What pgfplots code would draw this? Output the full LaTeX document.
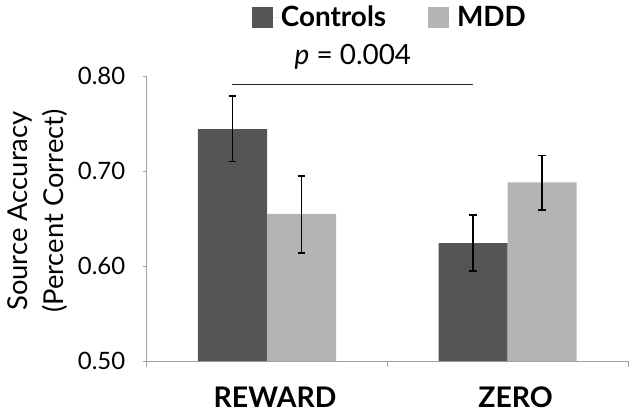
\documentclass[border=0pt]{standalone}
\usepackage{pgfplots}
\pgfplotsset{compat=1.18}
\usepackage{fontspec}
\setmainfont{Lato}
\definecolor{ctrl}{HTML}{555555}
\definecolor{mdd}{HTML}{B4B4B4}
\definecolor{axgray}{HTML}{A0A0A0}
\begin{document}
\begin{tikzpicture}
\path[use as bounding box] (-146.7bp,-52bp) rectangle (486.3bp,361bp);
\begin{axis}[
  at={(0,0)}, anchor=south west,
  scale only axis, width=481.3bp, height=285bp,
  xmin=-0.5, xmax=1.5, ymin=0.5, ymax=0.8,
  ybar=0pt, bar width=0.287,
  axis x line*=bottom, axis y line*=left,
  axis line style={axgray, line width=1bp, -},
  xtick={0,1}, xticklabels={REWARD,ZERO},
  minor xtick={-0.5,0.5,1.5},
  major x tick style={draw=none},
  minor x tick style={axgray, line width=1bp},
  minor tick length=6bp,
  ytick={0.5,0.6,0.7,0.8},
  y tick style={axgray, line width=1bp},
  major tick length=4bp,
  tick align=outside,
  yticklabel style={/pgf/number format/.cd, fixed, fixed zerofill, precision=2, /tikz/.cd, font=\fontsize{24}{28}\selectfont, xshift=-14bp},
  /pgf/number format/assume math mode=true,
  xticklabel style={font=\fontsize{28.5}{32}\selectfont\bfseries, yshift=-18bp, xshift=8bp},
  ylabel={Source Accuracy\\(Percent Correct)},
  ylabel style={at={(axis description cs:-0.226,0.526)}, anchor=center, align=center, font=\fontsize{27.5}{36}\selectfont},
  clip=false,
  legend columns=2,
  legend style={at={(axis description cs:0.218,1.207)}, anchor=west, draw=none, fill=none, inner sep=0pt,
    font=\fontsize{28}{32}\selectfont\bfseries,
    /tikz/every even column/.append style={column sep=40bp}},
  legend image code/.code={\fill[#1] (0bp,-10.5bp) rectangle (21bp,10.5bp); \path (21bp,0bp) -- (27bp,0bp);},
  error bars/y dir=both, error bars/y explicit,
  error bars/error bar style={black, line width=1.6bp},
  error bars/error mark options={black, line width=1.6bp, mark size=3.8bp, rotate=90},
]
\addplot[fill=ctrl, draw=none] coordinates {
  (0,0.744) += (0,0.035) -= (0,0.034)
  (1,0.624) += (0,0.030) -= (0,0.029)
};
\addlegendentry{Controls}
\addplot[fill=mdd, draw=none] coordinates {
  (0,0.655) += (0,0.040) -= (0,0.041)
  (1,0.688) += (0,0.0285) -= (0,0.029)
};
\addlegendentry{MDD}
\draw[black!85, line width=1.6bp] (axis cs:-0.147,0.791) -- (axis cs:0.857,0.791);
\node[font=\fontsize{28}{32}\selectfont, anchor=base] at (axis cs:0.357,0.8116) {\textit{p} = 0.004};
\end{axis}
\end{tikzpicture}
\end{document}
